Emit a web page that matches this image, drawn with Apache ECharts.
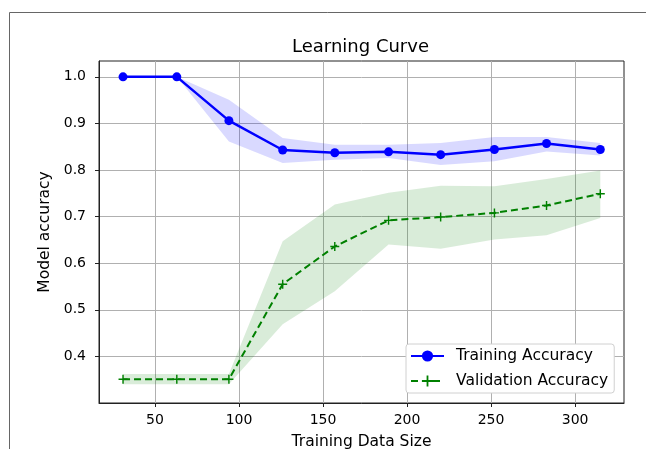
<!DOCTYPE html>
<html>
<head>
<meta charset="utf-8">
<script src="https://cdn.jsdelivr.net/npm/echarts@6/dist/echarts.min.js"></script>
<style>
html,body{margin:0;padding:0;background:#fff;}
#chart{width:646px;height:449px;}
</style>
</head>
<body>
<div id="chart"></div>
<script>
// ---- data ----
const sizes = [31, 63, 94, 126, 157, 189, 220, 252, 283, 315];
const trainMean  = [1.0, 1.0, 0.906, 0.843, 0.837, 0.839, 0.833, 0.844, 0.857, 0.844];
const trainUpper = [1.0, 1.0, 0.951, 0.869, 0.854, 0.854, 0.858, 0.871, 0.871, 0.858];
const trainLower = [1.0, 1.0, 0.861, 0.815, 0.822, 0.826, 0.811, 0.819, 0.840, 0.831];
const valMean  = [0.351, 0.351, 0.351, 0.555, 0.636, 0.692, 0.699, 0.708, 0.724, 0.749];
const valUpper = [0.362, 0.362, 0.362, 0.647, 0.726, 0.751, 0.766, 0.765, 0.781, 0.799];
const valLower = [0.340, 0.340, 0.340, 0.469, 0.540, 0.640, 0.631, 0.651, 0.660, 0.697];
const xTicks = [50, 100, 150, 200, 250, 300];
const yTicks = [0.4, 0.5, 0.6, 0.7, 0.8, 0.9, 1.0];
const titleText = 'Learning Curve';
const xName = 'Training Data Size';
const yName = 'Model accuracy';
const seriesNames = ['Training Accuracy', 'Validation Accuracy'];

const FONT = 'DejaVu Sans';
const plusPath = 'path://M4.2,0 L5.8,0 L5.8,4.2 L10,4.2 L10,5.8 L5.8,5.8 L5.8,10 L4.2,10 L4.2,5.8 L0,5.8 L0,4.2 L4.2,4.2 Z';

function band(upper, lower, color) {
  return {
    type: 'custom',
    silent: true,
    z: 1,
    data: [[sizes[0], lower[0]]],
    renderItem: function (params, api) {
      const pts = [];
      for (let i = 0; i < sizes.length; i++) pts.push(api.coord([sizes[i], upper[i]]));
      for (let i = sizes.length - 1; i >= 0; i--) pts.push(api.coord([sizes[i], lower[i]]));
      return { type: 'polygon', shape: { points: pts }, style: { fill: color } };
    }
  };
}

const chart = echarts.init(document.getElementById('chart'), null, { renderer: 'canvas' });
const axisCommon = {
  axisLine: { show: true, lineStyle: { color: '#222', width: 1 } },
  axisTick: { show: true, length: 4, lineStyle: { color: '#222' } },
  splitLine: { show: true, lineStyle: { color: '#b0b0b0', width: 1 } },
  nameTextStyle: { fontFamily: FONT, fontSize: 15.5, color: '#000' }
};
chart.setOption({
  animation: false,
  backgroundColor: '#fff',
  textStyle: { fontFamily: FONT },
  grid: { left: 99, top: 61, right: 22, bottom: 46, show: true, borderColor: '#222', borderWidth: 1, containLabel: false, outerBoundsMode: 'none' },
  xAxis: Object.assign({}, axisCommon, {
    type: 'value', min: 16.7, max: 329.1,
    name: xName, nameLocation: 'middle', nameGap: 31,
    axisTick: Object.assign({}, axisCommon.axisTick, { customValues: xTicks }),
    axisLabel: { customValues: xTicks, fontFamily: FONT, fontSize: 14, color: '#000', margin: 10 }
  }),
  yAxis: Object.assign({}, axisCommon, {
    type: 'value', min: 0.3, max: 1.034,
    name: yName, nameLocation: 'middle', nameGap: 46, nameRotate: 90,
    axisTick: Object.assign({}, axisCommon.axisTick, { customValues: yTicks }),
    axisLabel: { customValues: yTicks, fontFamily: FONT, fontSize: 14, color: '#000', margin: 13,
      formatter: v => v.toFixed(1) }
  }),
  legend: {
    data: seriesNames,
    orient: 'vertical',
    left: 406, top: 344,
    padding: [4, 6, 4, 4],
    itemWidth: 33, itemHeight: 14, itemGap: 9,
    backgroundColor: '#fff', borderColor: '#d0d0d0', borderWidth: 1, borderRadius: 3,
    textStyle: { fontFamily: FONT, fontSize: 15.5, color: '#000', padding: [0, 0, 0, 7] }
  },
  graphic: [
    { type: 'line', shape: { x1: 9.5, y1: 12.5, x2: 646, y2: 12.5 }, style: { stroke: '#666', lineWidth: 1 }, silent: true },
    { type: 'line', shape: { x1: 9.5, y1: 12.5, x2: 9.5, y2: 449 }, style: { stroke: '#666', lineWidth: 1 }, silent: true },
    { type: 'text', x: 360.5, y: 47, style: { text: titleText, font: '18px "DejaVu Sans"', fill: '#000', align: 'center', verticalAlign: 'middle' }, silent: true }
  ],
  series: [
    band(trainUpper, trainLower, 'rgba(0,0,255,0.15)'),
    band(valUpper, valLower, 'rgba(0,128,0,0.15)'),
    {
      name: seriesNames[0], type: 'line', z: 3,
      data: sizes.map((x, i) => [x, trainMean[i]]),
      symbol: 'circle', symbolSize: 9, showAllSymbol: true,
      lineStyle: { color: '#0000ff', width: 2.5 },
      itemStyle: { color: '#0000ff' }
    },
    {
      name: seriesNames[1], type: 'line', z: 3,
      data: sizes.map((x, i) => [x, valMean[i]]),
      symbol: plusPath, symbolSize: 9, showAllSymbol: true,
      lineStyle: { color: '#008000', width: 2, type: [7, 4] },
      itemStyle: { color: '#008000' }
    }
  ]
});
</script>
</body>
</html>
